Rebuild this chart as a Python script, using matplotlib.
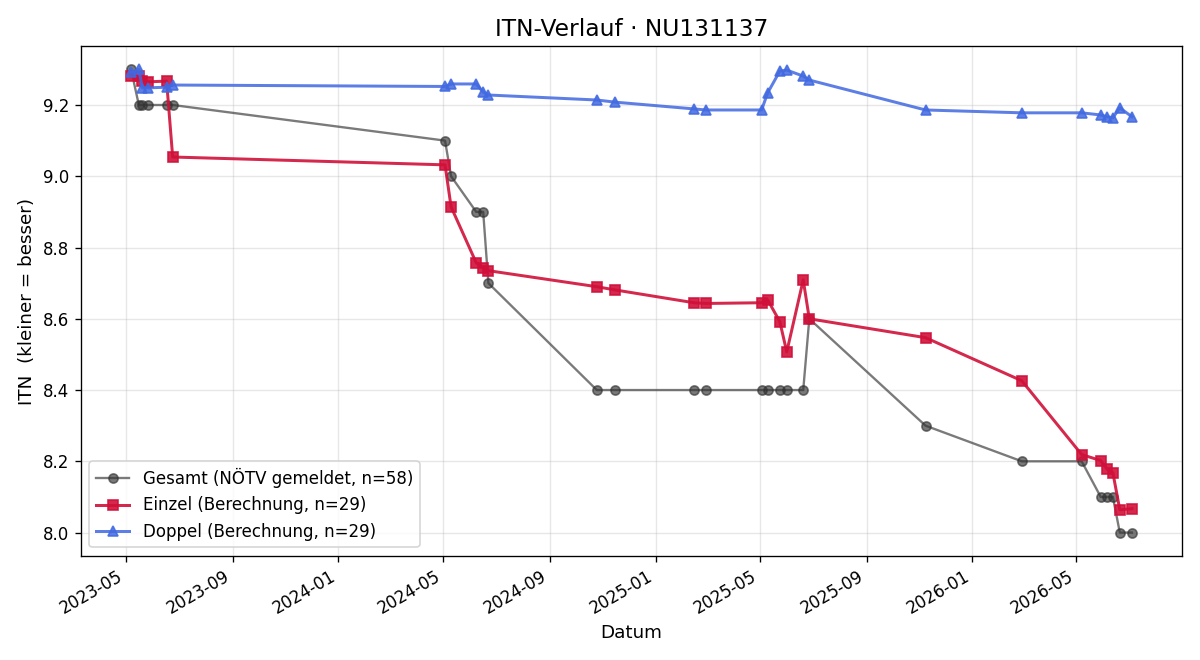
import numpy as np
import pandas as pd
import matplotlib
matplotlib.use("Agg")
import matplotlib.pyplot as plt
import matplotlib.dates as mdates

# Spieltermine (Einzel/Doppel/Gesamt teilen sich die Daten)
dates = pd.to_datetime([
    "2023-05-07", "2023-05-16", "2023-05-20", "2023-05-26", "2023-06-17", "2023-06-24",
    "2024-05-03", "2024-05-10", "2024-06-08", "2024-06-16", "2024-06-22",
    "2024-10-25", "2024-11-15", "2025-02-14", "2025-02-28",
    "2025-05-03", "2025-05-10", "2025-05-24", "2025-06-01", "2025-06-20", "2025-06-27",
    "2025-11-08", "2026-02-27", "2026-05-07", "2026-05-29", "2026-06-05",
    "2026-06-12", "2026-06-20", "2026-07-04",
])

gesamt = [9.3, 9.2, 9.2, 9.2, 9.2, 9.2,
          9.1, 9.0, 8.9, 8.9, 8.7,
          8.4, 8.4, 8.4, 8.4,
          8.4, 8.4, 8.4, 8.4, 8.4, 8.6,
          8.3, 8.2, 8.2, 8.1, 8.1,
          8.1, 8.0, 8.0]

einzel = [9.281, 9.28, 9.267, 9.265, 9.267, 9.054,
          9.032, 8.914, 8.757, 8.743, 8.735,
          8.690, 8.681, 8.645, 8.643,
          8.645, 8.653, 8.592, 8.507, 8.709, 8.600,
          8.547, 8.426, 8.219, 8.202, 8.179,
          8.168, 8.064, 8.067]

doppel = [9.292, 9.300, 9.248, 9.248, 9.250, 9.256,
          9.252, 9.259, 9.259, 9.236, 9.228,
          9.214, 9.208, 9.189, 9.186,
          9.186, 9.234, 9.295, 9.298, 9.281, 9.270,
          9.186, 9.178, 9.178, 9.172, 9.167,
          9.164, 9.192, 9.167]


def plot_itn():
    fig, ax = plt.subplots(figsize=(10, 5.5), dpi=120)

    ax.plot(dates, gesamt, color='#333333', alpha=0.65, lw=1.4, marker='o', ms=5.5,
            label='Gesamt (NÖTV gemeldet, n=58)')
    ax.plot(dates, einzel, color='#d0103a', alpha=0.9, lw=1.8, marker='s', ms=6.5,
            label='Einzel (Berechnung, n=29)')
    ax.plot(dates, doppel, color='#4169e1', alpha=0.85, lw=1.8, marker='^', ms=6.5,
            label='Doppel (Berechnung, n=29)')

    ax.xaxis.set_major_locator(mdates.MonthLocator(bymonth=[1, 5, 9]))
    ax.xaxis.set_major_formatter(mdates.DateFormatter('%Y-%m'))
    for lbl in ax.get_xticklabels():
        lbl.set_rotation(30)
        lbl.set_ha('right')

    ax.set_title('ITN-Verlauf · NU131137', fontsize=14)
    ax.set_xlabel('Datum', fontsize=11)
    ax.set_ylabel('ITN  (kleiner = besser)', fontsize=11)
    ax.grid(True, alpha=0.3)
    ax.legend(loc='lower left', fontsize=10)

    fig.subplots_adjust(left=0.0675, right=0.985, top=0.93, bottom=0.158)
    fig.savefig('out.png')


if __name__ == "__main__":
    plot_itn()
